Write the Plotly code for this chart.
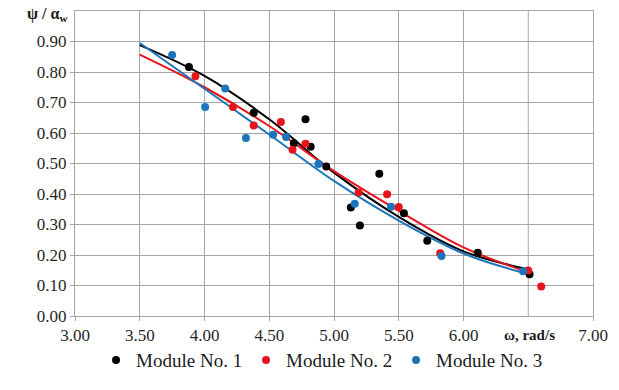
import plotly.graph_objects as go

# Measured points
x1 = [3.88, 4.38, 4.69, 4.78, 4.82, 4.94, 5.13, 5.20, 5.35, 5.54, 5.72, 6.11, 6.51]
y1 = [0.816, 0.666, 0.566, 0.645, 0.555, 0.49, 0.356, 0.297, 0.466, 0.337, 0.247, 0.207, 0.137]

x2 = [3.93, 4.22, 4.38, 4.59, 4.68, 4.78, 5.19, 5.41, 5.50, 5.82, 6.50, 6.60]
y2 = [0.786, 0.685, 0.625, 0.636, 0.545, 0.565, 0.405, 0.399, 0.357, 0.206, 0.149, 0.097]

x3 = [3.75, 4.005, 4.16, 4.32, 4.53, 4.63, 4.88, 5.16, 5.44, 5.83, 6.46]
y3 = [0.856, 0.685, 0.746, 0.584, 0.594, 0.587, 0.498, 0.368, 0.358, 0.197, 0.147]

# Trend curves
curve_x = [3.5, 4.0, 4.5, 5.0, 5.5, 6.0, 6.5]
fit1 = [0.888, 0.787, 0.645, 0.470, 0.325, 0.212, 0.153]
fit2 = [0.857, 0.750, 0.623, 0.475, 0.345, 0.225, 0.143]
fit3 = [0.895, 0.745, 0.595, 0.443, 0.313, 0.205, 0.137]

names = ["Module No. 1", "Module No. 2", "Module No. 3"]
colors = ["#000000", "#e8141c", "#1c75bc"]

x_ticks = [3.0, 3.5, 4.0, 4.5, 5.0, 5.5, 6.0, 7.0]
x_ticktext = ["3.00", "3.50", "4.00", "4.50", "5.00", "5.50", "6.00", "7.00"]
y_ticks = [0.0, 0.1, 0.2, 0.3, 0.4, 0.5, 0.6, 0.7, 0.8, 0.9]
y_ticktext = ["0.00", "0.10", "0.20", "0.30", "0.40", "0.50", "0.60", "0.70", "0.80", "0.90"]

serif = "Times New Roman"
grid = "#a6a6a6"

fig = go.Figure()
# vertical grid line at 6.5 (its label is replaced by the axis title)
fig.add_vline(x=6.5, line=dict(color=grid, width=1), layer="below")
for fy, c in zip([fit1, fit2, fit3], colors):
    fig.add_trace(go.Scatter(x=curve_x, y=fy, mode="lines",
                             line=dict(color=c, width=2, shape="spline", smoothing=1.0),
                             showlegend=False, hoverinfo="skip"))
for xs, ys, n, c in zip([x1, x2, x3], [y1, y2, y3], names, colors):
    fig.add_trace(go.Scatter(x=xs, y=ys, mode="markers", name=n,
                             marker=dict(color=c, size=8)))

fig.update_layout(
    width=619, height=390,
    margin=dict(l=75, r=26, t=11, b=59),
    paper_bgcolor="white", plot_bgcolor="white",
    font=dict(family=serif, color="#262626", size=17),
    showlegend=True,
    legend=dict(orientation="h", x=0.475, xanchor="center", y=-0.145, yanchor="middle",
                font=dict(family=serif, size=19, color="#1a1a1a"),
                itemwidth=30, entrywidth=105, tracegroupgap=0, bgcolor="rgba(0,0,0,0)"),
    xaxis=dict(range=[3, 7], tickvals=x_ticks, ticktext=x_ticktext, showgrid=True, gridcolor=grid,
               gridwidth=1, showline=True, linecolor=grid, linewidth=1, mirror=True,
               ticks="outside", ticklen=4, tickcolor=grid, zeroline=False,
               tickfont=dict(family=serif, size=17, color="#262626")),
    yaxis=dict(range=[0, 1], tickvals=y_ticks, ticktext=y_ticktext, showgrid=True, gridcolor=grid,
               gridwidth=1, showline=True, linecolor=grid, linewidth=1, mirror=True,
               ticks="outside", ticklen=4, tickcolor=grid, zeroline=False,
               tickfont=dict(family=serif, size=17, color="#262626")),
    annotations=[
        dict(text="<b>ψ / α<sub>w</sub></b>", xref="paper", yref="paper", x=-0.054, y=0.99,
             xanchor="center", yanchor="middle", showarrow=False,
             font=dict(family=serif, size=16, color="#1a1a1a")),
        dict(text="<b>ω, rad/s</b>", xref="paper", yref="paper", x=0.878, y=-0.0625,
             xanchor="center", yanchor="middle", showarrow=False,
             font=dict(family=serif, size=15, color="#1a1a1a")),
    ],
)

fig.write_html("out.html")
